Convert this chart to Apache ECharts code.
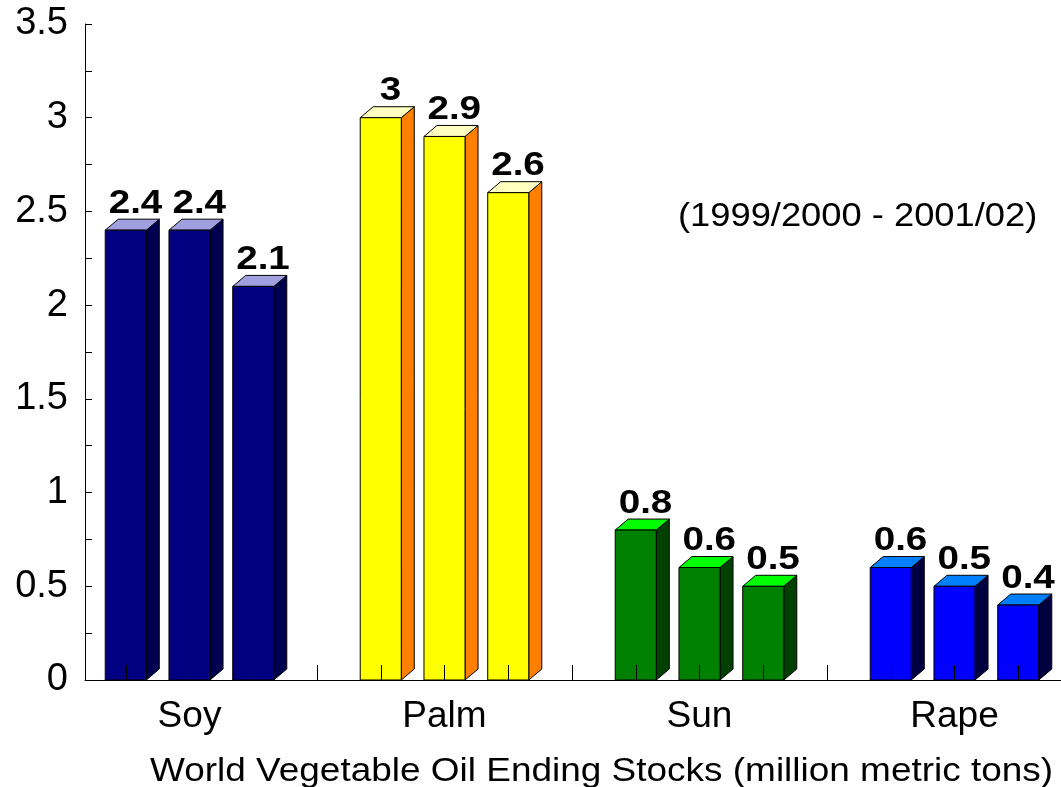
<!DOCTYPE html>
<html lang="en">
<head>
    <meta charset="UTF-8">
    <title>World Vegetable Oil Ending Stocks</title>
    <script src="https://cdn.jsdelivr.net/npm/echarts@6/dist/echarts.min.js"></script>
    <style>
        html, body {margin: 0; padding: 0; background: #fff; overflow: hidden;}
        /* a bit wider than the window: the last category band runs past the right edge */
        #main {width: 1082px; height: 787px;}
    </style>
</head>
<body>
    <div id="main"></div>
    <script>
        // data
        var categories = ['Soy', 'Palm', 'Sun', 'Rape'];
        var seasons = ['1999/2000', '2000/01', '2001/02'];
        var soy = [2.4, 2.4, 2.1];
        var palm = [3, 2.9, 2.6];
        var sun = [0.8, 0.6, 0.5];
        var rape = [0.6, 0.5, 0.4];
        var yMax = 3.5;
        var yStep = 0.5;

        // front / top / side colours for each oil
        var faces = [
            {front: '#000080', top: '#a0a0e0', side: '#000050'},
            {front: '#ffff00', top: '#ffffc0', side: '#ff8000'},
            {front: '#008000', top: '#00ff00', side: '#004000'},
            {front: '#0000ff', top: '#0080ff', side: '#000040'}
        ];
        var font = 'Liberation Sans, Arial, sans-serif';

        var myChart = echarts.init(document.getElementById('main'));

        function renderBar(params, api) {
            var cat = api.value(0);
            var j = api.value(1);
            var v = api.value(2);
            var top = api.coord([cat, v]);
            var base = api.coord([cat, 0]);
            var band = api.size([1, 0])[0];
            var xc = top[0] + (j - 1) * band / 4;
            var w = band * 0.161;
            var dx = band * 0.051;
            var dy = 11;
            var x0 = xc - w / 2, x1 = xc + w / 2;
            var y = top[1], y0 = base[1];
            var c = faces[cat];
            var line = {stroke: '#000', lineWidth: 1};
            return {
                type: 'group',
                children: [
                    {type: 'polygon', shape: {points: [[x1, y], [x1 + dx, y - dy], [x1 + dx, y0 - dy], [x1, y0]]},
                        style: Object.assign({fill: c.side}, line)},
                    {type: 'polygon', shape: {points: [[x0, y], [x1, y], [x1 + dx, y - dy], [x0 + dx, y - dy]]},
                        style: Object.assign({fill: c.top}, line)},
                    {type: 'rect', shape: {x: x0, y: y, width: w, height: y0 - y},
                        style: Object.assign({fill: c.front}, line)},
                    {type: 'text', x: xc + dx * 0.75, y: y - dy + 1, scaleX: 1.17,
                        style: {text: String(v), x: 0, y: 0, align: 'center', verticalAlign: 'bottom',
                            font: 'bold 33px ' + font, fill: '#000'}}
                ]
            };
        }

        var oils = [soy, palm, sun, rape];
        var series = oils.map(function (vals, i) {
            return {
                name: categories[i],
                type: 'custom',
                xAxisIndex: 1,
                yAxisIndex: 1,
                renderItem: renderBar,
                encode: {x: 0, y: 2},
                data: vals.map(function (v, j) { return [i, j, v]; }),
                z: 2
            };
        });

        // quarter-category slots, only used for the tick marks along the floor
        var slots = [];
        for (var k = 0; k < categories.length * 4; k++) slots.push(String(k));

        var option = {
            animation: false,
            textStyle: {fontFamily: font},
            graphic: [
                {type: 'text', x: 678, y: 200, scaleX: 1.1,
                    style: {text: '(1999/2000 - 2001/02)', font: '33px ' + font, fill: '#000'}},
                {type: 'text', x: 150, y: 755, scaleX: 1.12,
                    style: {text: 'World Vegetable Oil Ending Stocks (million metric tons)', font: '33px ' + font, fill: '#000'}}
            ],
            grid: [
                {left: 85, right: 21, top: 24, bottom: 107},
                {left: 62, right: 0, top: 24, bottom: 107}
            ],
            xAxis: [
                {gridIndex: 0, type: 'value', min: 0, max: 1,
                    axisLine: {show: true, lineStyle: {color: '#000', width: 1}},
                    axisTick: {show: false}, axisLabel: {show: false}, splitLine: {show: false}},
                {gridIndex: 1, type: 'category', data: categories, position: 'bottom',
                    axisLine: {show: false}, axisTick: {show: false},
                    axisLabel: {fontSize: 37, color: '#000', margin: 18, fontFamily: font}},
                {gridIndex: 1, type: 'category', data: slots, position: 'bottom', z: 5,
                    axisLine: {show: false},
                    axisTick: {show: true, inside: true, length: 15, lineStyle: {color: '#000'},
                        interval: function (index) { return index !== 0; }},
                    axisLabel: {show: false}}
            ],
            yAxis: [
                {gridIndex: 0, type: 'value', min: 0, max: yMax, interval: yStep,
                    axisLine: {show: true, lineStyle: {color: '#000', width: 1}},
                    axisTick: {show: true, inside: true, length: 7, lineStyle: {color: '#000'}},
                    minorTick: {show: true, splitNumber: 2, length: 7, lineStyle: {color: '#000'}},
                    splitLine: {show: false},
                    axisLabel: {fontSize: 38, color: '#000', margin: 17, fontFamily: font}},
                {gridIndex: 1, type: 'value', min: 0, max: yMax, show: false}
            ],
            series: series
        };
        myChart.setOption(option);
    </script>
</body>
</html>
